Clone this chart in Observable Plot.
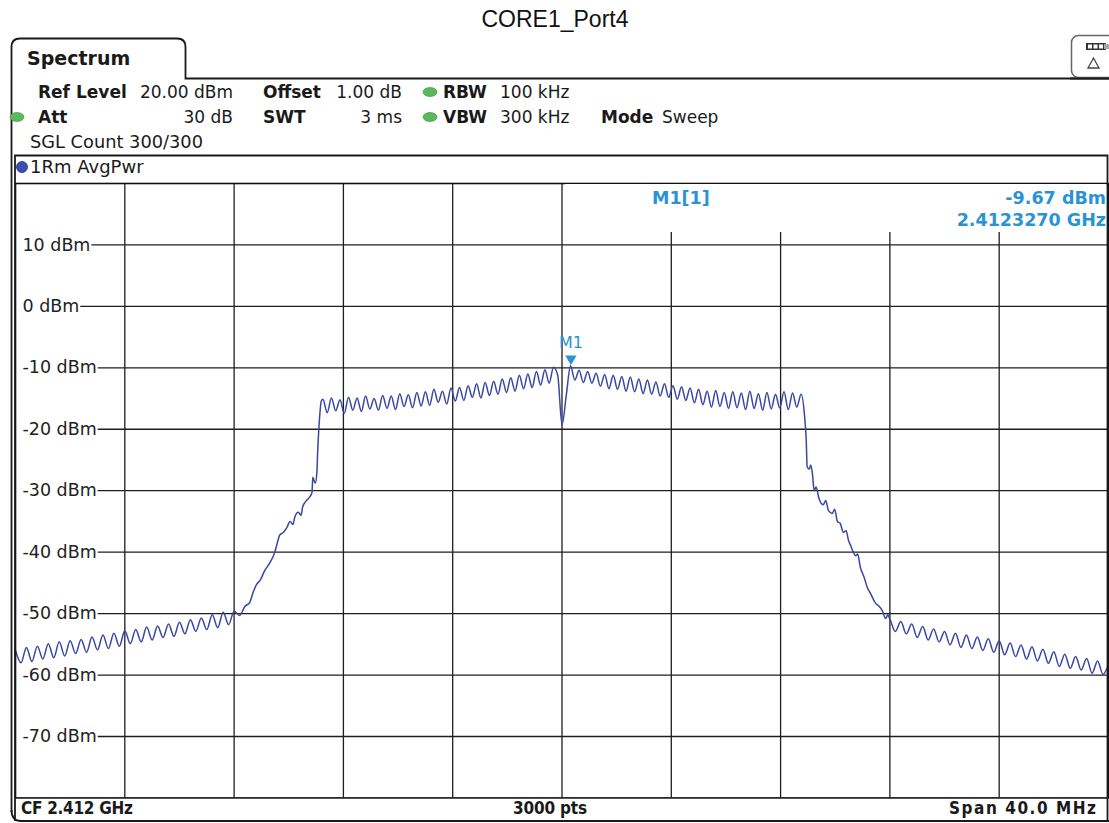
<!DOCTYPE html>
<html>
<head>
<meta charset="utf-8">
<script src="https://cdn.jsdelivr.net/npm/d3@7"></script>
<script src="https://cdn.jsdelivr.net/npm/@observablehq/plot@0.6"></script>
<style>
  html, body { margin: 0; padding: 0; background: #fff; }
  body { width: 1109px; height: 823px; overflow: hidden; position: relative; }
  #chart { position: absolute; left: 14px; top: 182px; }
  #deco { position: absolute; left: 0; top: 0; }
  #deco text { font-family: "DejaVu Sans", sans-serif; fill: #1a1a1a; }
</style>
</head>
<body>
<div id="chart"></div>
<svg id="deco" width="1109" height="823" xmlns="http://www.w3.org/2000/svg"></svg>
<script>
// ---------------- DATA ----------------
const centerFreqGHz = 2.412;
const spanMHz = 40;
const refLevelDbm = 20;
const bottomLevelDbm = -80;
const levelTicks = [10, 0, -10, -20, -30, -40, -50, -60, -70];
const freqGridMHz = [-16, -12, -8, -4, 0, 4, 8, 12, 16];

// left spectral skirt: sweep from -20 MHz, 0.2 MHz apart
const leftSkirtStartMHz = -20;
const skirtStepMHz = 0.2;
const leftSkirtLevels = [
  -56.0, -58.0, -55.5, -57.8, -55.3, -57.4, -54.9, -57.2, -54.6, -56.9,
  -54.4, -56.5, -54.2, -56.3, -53.8, -55.9, -53.5, -55.7, -53.2, -55.3,
  -52.8, -54.9, -52.6, -54.6, -52.2, -54.3, -52.0, -53.9, -51.7, -53.7,
  -51.4, -53.3, -51.0, -52.9, -50.7, -52.6, -50.2, -52.3, -49.8, -51.8,
  -49.6
];

// rising shoulder (MHz offset from CF, dBm)
const riseFreqMHz = [-11.8, -11.6, -11.43, -11.3, -11.17, -11.05, -10.88, -10.7, -10.51, -10.42,
  -10.33, -10.2, -10.07, -9.95, -9.85, -9.78, -9.65, -9.55, -9.49, -9.35,
  -9.23, -9.15, -9.12, -9.03, -8.97, -8.94, -8.9, -8.86, -8.81];
const riseLevels = [-50.3, -48.8, -48.2, -46.5, -45.2, -44.6, -43.0, -41.8, -40.0, -38.5,
  -37.2, -36.8, -36.0, -35.0, -35.5, -34.3, -33.5, -34.0, -32.6, -31.6,
  -31.0, -30.3, -27.8, -28.8, -27.0, -23.4, -20.0, -17.4, -15.4];

// occupied band: subcarrier ripple, 0.15625 MHz apart from -8.75 MHz
const passbandStartMHz = -8.75;
const passbandStepMHz = 0.15625;
const passbandLevels = [
  -15.1, -17.3, -14.9, -17.0, -15.2, -17.4, -14.8, -16.9,
  -14.9, -17.1, -14.6, -16.7, -15.0, -16.9, -14.5, -16.6,
  -14.6, -16.8, -14.2, -16.3, -14.4, -16.5, -14.0, -16.2,
  -13.9, -16.1, -13.5, -15.6, -13.8, -15.9, -13.3, -15.4,
  -13.2, -15.3, -12.9, -14.8, -12.6, -14.9, -12.4, -14.5,
  -12.2, -14.3, -11.8, -14.0, -11.6, -13.8, -11.2, -13.4,
  -11.0, -13.2, -10.6, -12.8, -10.3, -12.5, -9.9, -11.2,
  -19.3,
  -14.5, -9.67, -12.0, -10.4, -12.4, -10.6, -12.5,
  -10.9, -13.0, -11.1, -13.4, -11.2, -13.5, -11.4, -13.8,
  -11.5, -13.9, -11.8, -14.2, -12.0, -14.3, -12.3, -14.6,
  -12.6, -14.8, -12.9, -15.1, -13.1, -15.3, -13.3, -15.7,
  -13.5, -16.0, -13.8, -16.4, -13.7, -16.3, -14.0, -16.6,
  -13.9, -16.5, -14.1, -16.8, -13.8, -16.6, -14.2, -16.9,
  -14.0, -16.7, -14.3, -16.5, -13.9, -16.8, -14.1, -16.4, -14.3
];

// falling shoulder
const fallFreqMHz = [8.88, 8.94, 8.97, 9.05, 9.1, 9.16, 9.23, 9.3, 9.4, 9.56,
  9.65, 9.75, 9.89, 9.98, 10.08, 10.18, 10.3, 10.4, 10.48, 10.57,
  10.66, 10.75, 10.82, 10.92, 11.05, 11.17, 11.3, 11.47, 11.6, 11.72, 11.85, 11.92];
const fallLevels = [-18.0, -22.0, -26.0, -26.5, -25.8, -27.0, -30.0, -29.4, -31.2, -32.3,
  -31.6, -33.2, -33.7, -33.0, -35.0, -35.3, -36.8, -36.5, -38.0, -39.0,
  -40.0, -40.6, -40.3, -42.5, -44.0, -45.7, -46.8, -48.3, -48.8, -49.5, -50.8, -50.2];

// right spectral skirt: from +12 MHz, 0.2 MHz apart
const rightSkirtStartMHz = 12;
const rightSkirtLevels = [
  -50.9, -52.9, -51.3, -53.3, -51.7, -53.9, -52.1, -54.3, -52.5, -54.6,
  -52.9, -55.1, -53.2, -55.5, -53.5, -55.7, -53.8, -56.0, -54.1, -56.3,
  -54.4, -56.7, -54.8, -57.0, -55.1, -57.4, -55.4, -57.7, -55.8, -58.1,
  -56.2, -58.6, -56.6, -58.9, -57.0, -59.2, -57.3, -59.7, -57.7, -59.9,
  -58.3
];

// marker M1
const markerLabel = "M1";
const markerFreqGHz = 2.4123270;
const markerLevelDbm = -9.67;

// ---------------- BUILD ----------------
const trace = [];
leftSkirtLevels.forEach((v, i) => trace.push({f: leftSkirtStartMHz + i * skirtStepMHz, level: v}));
riseFreqMHz.forEach((f, i) => trace.push({f, level: riseLevels[i]}));
passbandLevels.forEach((v, i) => trace.push({f: passbandStartMHz + i * passbandStepMHz, level: v}));
fallFreqMHz.forEach((f, i) => trace.push({f, level: fallLevels[i]}));
rightSkirtLevels.forEach((v, i) => trace.push({f: rightSkirtStartMHz + i * skirtStepMHz, level: v}));

const marker = [{f: (markerFreqGHz - centerFreqGHz) * 1000, level: markerLevelDbm, label: markerLabel}];
const markerBlue = "#2a93d5";
const gridColor = "#1e1e1e";

const chart = Plot.plot({
  width: 1096,
  height: 617,
  marginLeft: 1, marginRight: 1, marginTop: 1, marginBottom: 1,
  style: {fontFamily: "DejaVu Sans, sans-serif", background: "transparent", overflow: "visible"},
  x: {domain: [-spanMHz / 2, spanMHz / 2], axis: null},
  y: {domain: [bottomLevelDbm, refLevelDbm], axis: null},
  marks: [
    Plot.ruleX(freqGridMHz, {stroke: gridColor, strokeWidth: 1.3}),
    Plot.ruleY(levelTicks, {stroke: gridColor, strokeWidth: 1.3}),
    Plot.text(levelTicks, {x: -spanMHz / 2, y: d => d, text: d => `${d} dBm`, textAnchor: "start", dx: 7, fontSize: 17.5, fill: "#222"}),
    Plot.line(trace, {x: "f", y: "level", stroke: "#3a46a3", strokeWidth: 1.5, curve: "monotone-x"}),
    Plot.dot(marker, {x: "f", y: "level", symbol: "triangle", rotate: 180, r: 4.2, fill: markerBlue, stroke: "none", dy: -7}),
    Plot.text(marker, {x: "f", y: "level", text: "label", dy: -23, fontSize: 16, fill: markerBlue}),
    Plot.frame({stroke: "#111", strokeWidth: 1.6})
  ]
});
document.getElementById("chart").appendChild(chart);

// white background behind level labels so grid lines start after the text
const NS = "http://www.w3.org/2000/svg";
chart.querySelectorAll("text").forEach(t => {
  if (!/dBm$/.test(t.textContent)) return;
  const b = t.getBBox();
  const r = document.createElementNS(NS, "rect");
  r.setAttribute("x", b.x - 8);
  r.setAttribute("y", b.y + 3);
  r.setAttribute("width", b.width + 9);
  r.setAttribute("height", Math.max(1, b.height - 6));
  r.setAttribute("fill", "white");
  if (t.getAttribute("transform")) r.setAttribute("transform", t.getAttribute("transform"));
  t.parentNode.insertBefore(r, t);
});

// ---------------- DECORATION (instrument frame & annotations) ----------------
const deco = document.getElementById("deco");
function el(tag, attrs, text) {
  const e = document.createElementNS(NS, tag);
  for (const k in attrs) e.setAttribute(k, attrs[k]);
  if (text != null) e.textContent = text;
  deco.appendChild(e);
  return e;
}
function txt(s, x, y, o = {}) {
  const a = {x, y, "font-size": o.size || 17, "font-weight": o.bold ? "bold" : "normal",
    "text-anchor": o.anchor || "start", style: (o.family ? `font-family:${o.family};` : "") + (o.fill ? `fill:${o.fill};` : "")};
  if (o.len) { a.textLength = o.len; a.lengthAdjust = "spacing"; }
  return el("text", a, s);
}
const frameStroke = "#1a1a1a";
// title
txt("CORE1_Port4", 555, 27, {size: 23, anchor: "middle", family: "'Liberation Sans', Arial, sans-serif", fill: "#111"});
// outer window with Spectrum tab
el("path", {d: "M11.5,812 V47 Q11.5,38.5 20,38.5 H177 Q185.5,38.5 185.5,47 V78.5 H1109", fill: "none", stroke: frameStroke, "stroke-width": 1.8});
el("path", {d: "M11.5,810 Q11.5,821 21,821 H1109", fill: "none", stroke: frameStroke, "stroke-width": 1.8});
txt("Spectrum", 27, 65, {size: 19, bold: true});
// icon box top right
el("rect", {x: 1071.5, y: 35.5, width: 50, height: 42, rx: 7, fill: "#fff", stroke: "#666", "stroke-width": 1.5});
el("rect", {x: 1086, y: 43, width: 20, height: 7, fill: "#333"});
[1088, 1093.5, 1099].forEach(x => el("rect", {x, y: 44.5, width: 4, height: 4, fill: "#fff"}));
el("rect", {x: 1104, y: 44, width: 5, height: 5, fill: "#aaa"});
el("path", {d: "M1093.5,58 L1099,68 L1088,68 Z", fill: "none", stroke: "#444", "stroke-width": 1.3});
el("line", {x1: 1070, y1: 78.5, x2: 1109, y2: 78.5, stroke: frameStroke, "stroke-width": 1.8});

// header parameters
const green = "#5cb85c";
function dotG(cx, cy) { el("ellipse", {cx, cy, rx: 7, ry: 4.5, fill: green, stroke: "#3e8e3e", "stroke-width": 0.6}); }
txt("Ref Level", 38, 98, {bold: true});
txt("20.00 dBm", 233, 98, {anchor: "end"});
txt("Offset", 263, 98, {bold: true});
txt("1.00 dB", 402, 98, {anchor: "end"});
dotG(430, 92);
txt("RBW", 443, 98, {bold: true});
txt("100 kHz", 500, 98);

dotG(17, 117);
txt("Att", 38, 123, {bold: true});
txt("30 dB", 233, 123, {anchor: "end"});
txt("SWT", 263, 123, {bold: true});
txt("3 ms", 402, 123, {anchor: "end"});
dotG(430, 117);
txt("VBW", 443, 123, {bold: true});
txt("300 kHz", 500, 123);
txt("Mode", 601, 123, {bold: true});
txt("Sweep", 662, 123);

txt("SGL Count 300/300", 30, 148, {size: 17.8});

// trace window
el("path", {d: "M15,821 V155.5 H1107.5 V821", fill: "none", stroke: frameStroke, "stroke-width": 1.8});
el("circle", {cx: 22, cy: 167, r: 5.5, fill: "#3a4fb0", stroke: "#223080", "stroke-width": 0.8});
txt("1Rm AvgPwr", 30, 173, {size: 18});

// marker readout box (covers grid)
el("rect", {x: 565, y: 184, width: 541, height: 48, fill: "#fff"});
txt("M1[1]", 652, 204, {bold: true, size: 17.5, fill: markerBlue});
txt(`${markerLevelDbm.toFixed(2)} dBm`, 1106, 204, {bold: true, size: 17.5, anchor: "end", fill: markerBlue});
txt(`${markerFreqGHz.toFixed(7)} GHz`, 1106, 226, {bold: true, size: 17.5, anchor: "end", fill: markerBlue});

// bottom bar
const cond = "'DejaVu Sans Condensed', 'DejaVu Sans', sans-serif";
txt(`CF ${centerFreqGHz.toFixed(3)} GHz`, 21, 814, {bold: true, size: 17, family: cond, len: 112});
txt("3000 pts", 550, 814, {bold: true, size: 17, family: cond, anchor: "middle", len: 74});
txt(`Span ${spanMHz.toFixed(1)} MHz`, 1096, 814, {bold: true, size: 17, family: cond, anchor: "end", len: 147});
</script>
</body>
</html>
